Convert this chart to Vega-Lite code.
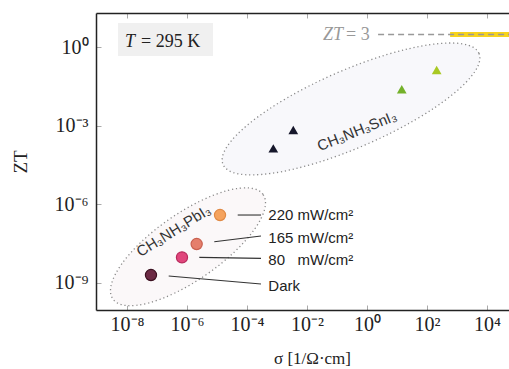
{
  "$schema": "https://vega.github.io/schema/vega-lite/v6.json",
  "width": 413,
  "height": 297,
  "autosize": {"type": "none"},
  "padding": {"left": 96, "top": 13, "right": 0, "bottom": 59},
  "background": "white",
  "config": {"view": {"stroke": null}},
  "resolve": {"axis": {"x": "independent"}},
  "layer": [
    {
      "data": {"values": [{"sigma": 0.293, "zt": 0.00432}]},
      "mark": {"type": "point", "shape": "M1,0C1,0.153,0.552,0.277,0,0.277C-0.552,0.277,-1,0.153,-1,0C-1,-0.153,-0.552,-0.277,0,-0.277C0.552,-0.277,1,-0.153,1,0Z", "size": 77841, "angle": -23.5, "filled": true, "fill": "#f8f8fb", "fillOpacity": 1, "opacity": 1, "stroke": "#8a8a8a", "strokeWidth": 1.3, "strokeDash": [1.2, 2.8]},
      "encoding": {
        "x": {"field": "sigma", "type": "quantitative", "scale": {"type": "log", "domain": [9.26e-10, 54100], "nice": false},
          "axis": {"values": [1e-8, 1e-6, 1e-4, 1e-2, 1, 100, 10000], "labelExpr": "'10' + (datum.value < 1 ? '⁻' : '') + ['⁰','¹','²','³','⁴','⁵','⁶','⁷','⁸','⁹'][abs(round(log(datum.value)/LN10))]", "title": "σ  [1/Ω·cm]", "domainColor": "#222", "domainWidth": 1.5, "tickColor": "#aaa", "tickSize": -5, "labelPadding": 9, "labelFont": "Liberation Serif", "labelFontSize": 20, "labelColor": "#222", "labelFlush": false, "labelOverlap": false, "titleFont": "Liberation Serif", "titleFontSize": 17, "titleFontWeight": "normal", "titleColor": "#222", "titleX": 216, "titleY": 48, "titleBaseline": "middle", "grid": false}},
        "y": {"field": "zt", "type": "quantitative", "scale": {"type": "log", "domain": [9.1e-11, 19.9], "nice": false},
          "axis": {"values": [1, 1e-3, 1e-6, 1e-9], "labelExpr": "'10' + (datum.value < 1 ? '⁻' : '') + ['⁰','¹','²','³','⁴','⁵','⁶','⁷','⁸','⁹'][abs(round(log(datum.value)/LN10))]", "title": "ZT", "domainColor": "#222", "domainWidth": 1.5, "tickColor": "#aaa", "tickSize": -5, "labelPadding": 13, "labelFont": "Liberation Serif", "labelFontSize": 20, "labelColor": "#222", "labelFlush": false, "labelOverlap": false, "titleFont": "Liberation Serif", "titleFontSize": 19, "titleFontWeight": "normal", "titleColor": "#222", "titleX": -76, "titleBaseline": "middle", "grid": false}}
      }
    },
    {
      "data": {"values": [{"sigma": 1.08e-6, "zt": 2.36e-8}]},
      "mark": {"type": "point", "shape": "M1,0C1,0.201,0.552,0.364,0,0.364C-0.552,0.364,-1,0.201,-1,0C-1,-0.201,-0.552,-0.364,0,-0.364C0.552,-0.364,1,-0.201,1,0Z", "size": 33489, "angle": -34.8, "filled": true, "fill": "#fbf8f9", "fillOpacity": 1, "opacity": 1, "stroke": "#8a8a8a", "strokeWidth": 1.3, "strokeDash": [1.2, 2.8]},
      "encoding": {
        "x": {"field": "sigma", "type": "quantitative", "scale": {"type": "log", "domain": [9.26e-10, 54100], "nice": false}, "axis": null},
        "y": {"field": "zt", "type": "quantitative", "scale": {"type": "log", "domain": [9.1e-11, 19.9], "nice": false}}
      }
    },
    {
      "data": {"values": [{"sigma": 5.0e-9, "sigma2": 7.36e-6, "zt": 8.2, "zt2": 0.45}]},
      "mark": {"type": "rect", "fill": "#f0f0f0"},
      "encoding": {
        "x": {"field": "sigma", "type": "quantitative", "scale": {"type": "log", "domain": [9.26e-10, 54100], "nice": false},
          "axis": {"orient": "top", "values": [1e-8, 1e-6, 1e-4, 1e-2, 1, 100, 10000], "labels": false, "title": null, "domainColor": "#222", "domainWidth": 1.5, "tickColor": "#aaa", "tickSize": -5, "grid": false}},
        "x2": {"field": "sigma2"},
        "y": {"field": "zt", "type": "quantitative", "scale": {"type": "log", "domain": [9.1e-11, 19.9], "nice": false}},
        "y2": {"field": "zt2"}
      }
    },
    {
      "data": {"values": [{"sigma": 589, "sigma2": 54100, "zt": 3}]},
      "mark": {"type": "rule", "color": "#f7d31a", "strokeWidth": 5},
      "encoding": {
        "x": {"field": "sigma", "type": "quantitative", "scale": {"type": "log", "domain": [9.26e-10, 54100], "nice": false}, "axis": null},
        "x2": {"field": "sigma2"},
        "y": {"field": "zt", "type": "quantitative", "scale": {"type": "log", "domain": [9.1e-11, 19.9], "nice": false}}
      }
    },
    {
      "data": {"values": [{"sigma": 2.34, "sigma2": 54100, "zt": 3}]},
      "mark": {"type": "rule", "color": "#999", "strokeWidth": 1.5, "strokeDash": [6, 4]},
      "encoding": {
        "x": {"field": "sigma", "type": "quantitative", "scale": {"type": "log", "domain": [9.26e-10, 54100], "nice": false}, "axis": null},
        "x2": {"field": "sigma2"},
        "y": {"field": "zt", "type": "quantitative", "scale": {"type": "log", "domain": [9.1e-11, 19.9], "nice": false}}
      }
    },
    {
      "data": {"values": [
        {"sigma": 4.9e-5, "sigma2": 2.93e-4, "zt": 3.85e-7, "zt2": 3.85e-7},
        {"sigma": 8.1e-6, "sigma2": 2.93e-4, "zt": 3.68e-8, "zt2": 6.08e-8},
        {"sigma": 2.57e-6, "sigma2": 2.93e-4, "zt": 9.3e-9, "zt2": 8.55e-9},
        {"sigma": 2.45e-7, "sigma2": 2.93e-4, "zt": 1.8e-9, "zt2": 8.9e-10}
      ]},
      "mark": {"type": "rule", "color": "#333", "strokeWidth": 1.1},
      "encoding": {
        "x": {"field": "sigma", "type": "quantitative", "scale": {"type": "log", "domain": [9.26e-10, 54100], "nice": false}, "axis": null},
        "x2": {"field": "sigma2"},
        "y": {"field": "zt", "type": "quantitative", "scale": {"type": "log", "domain": [9.1e-11, 19.9], "nice": false}},
        "y2": {"field": "zt2"}
      }
    },
    {
      "data": {"values": [
        {"sigma": 7.53e-4, "zt": 1.35e-4, "s": "SnI3 a"},
        {"sigma": 3.49e-3, "zt": 6.78e-4, "s": "SnI3 a"},
        {"sigma": 14.4, "zt": 0.0243, "s": "SnI3 b"},
        {"sigma": 210, "zt": 0.132, "s": "SnI3 c"}
      ]},
      "mark": {"type": "point", "shape": "triangle-up", "filled": true, "size": 95, "opacity": 1},
      "encoding": {
        "x": {"field": "sigma", "type": "quantitative", "scale": {"type": "log", "domain": [9.26e-10, 54100], "nice": false}, "axis": null},
        "y": {"field": "zt", "type": "quantitative", "scale": {"type": "log", "domain": [9.1e-11, 19.9], "nice": false}},
        "color": {"field": "s", "type": "nominal", "scale": {"domain": ["SnI3 a", "SnI3 b", "SnI3 c"], "range": ["#16172b", "#74b12a", "#a9c923"]}, "legend": null}
      }
    },
    {
      "data": {"values": [
        {"sigma": 1.26e-5, "zt": 3.85e-7, "s": "220"},
        {"sigma": 2.1e-6, "zt": 3.0e-8, "s": "165"},
        {"sigma": 6.8e-7, "zt": 9.3e-9, "s": "80"},
        {"sigma": 6.3e-8, "zt": 1.97e-9, "s": "Dark"}
      ]},
      "mark": {"type": "point", "shape": "circle", "filled": true, "size": 125, "opacity": 1, "strokeWidth": 1.2},
      "encoding": {
        "x": {"field": "sigma", "type": "quantitative", "scale": {"type": "log", "domain": [9.26e-10, 54100], "nice": false}, "axis": null},
        "y": {"field": "zt", "type": "quantitative", "scale": {"type": "log", "domain": [9.1e-11, 19.9], "nice": false}},
        "fill": {"field": "s", "type": "nominal", "scale": {"domain": ["220", "165", "80", "Dark"], "range": ["#f5a35e", "#e57f6c", "#e0467c", "#6c2a44"]}, "legend": null},
        "stroke": {"field": "s", "type": "nominal", "scale": {"domain": ["220", "165", "80", "Dark"], "range": ["#e08a45", "#c9604f", "#b82a5c", "#3c1020"]}, "legend": null}
      }
    },
    {
      "data": {"values": [
        {"sigma": 5.13e-4, "zt": 3.85e-7, "label": "220 mW/cm²"},
        {"sigma": 5.13e-4, "zt": 5.1e-8, "label": "165 mW/cm²"},
        {"sigma": 5.13e-4, "zt": 7.4e-9, "label": "80\u00a0\u00a0\u00a0mW/cm²"},
        {"sigma": 5.13e-4, "zt": 7.7e-10, "label": "Dark"}
      ]},
      "mark": {"type": "text", "align": "left", "baseline": "middle", "font": "Liberation Sans", "fontSize": 15, "color": "#222"},
      "encoding": {
        "x": {"field": "sigma", "type": "quantitative", "scale": {"type": "log", "domain": [9.26e-10, 54100], "nice": false}, "axis": null},
        "y": {"field": "zt", "type": "quantitative", "scale": {"type": "log", "domain": [9.1e-11, 19.9], "nice": false}},
        "text": {"field": "label"}
      }
    },
    {
      "data": {"values": [{"sigma": 0.464, "zt": 6.25e-4, "label": "CH₃NH₃SnI₃"}]},
      "mark": {"type": "text", "align": "center", "baseline": "middle", "font": "Liberation Sans", "fontSize": 15, "color": "#333", "angle": -22},
      "encoding": {
        "x": {"field": "sigma", "type": "quantitative", "scale": {"type": "log", "domain": [9.26e-10, 54100], "nice": false}, "axis": null},
        "y": {"field": "zt", "type": "quantitative", "scale": {"type": "log", "domain": [9.1e-11, 19.9], "nice": false}},
        "text": {"field": "label"}
      }
    },
    {
      "data": {"values": [{"sigma": 3.55e-7, "zt": 9.6e-8, "label": "CH₃NH₃PbI₃"}]},
      "mark": {"type": "text", "align": "center", "baseline": "middle", "font": "Liberation Sans", "fontSize": 15, "color": "#333", "angle": -32},
      "encoding": {
        "x": {"field": "sigma", "type": "quantitative", "scale": {"type": "log", "domain": [9.26e-10, 54100], "nice": false}, "axis": null},
        "y": {"field": "zt", "type": "quantitative", "scale": {"type": "log", "domain": [9.1e-11, 19.9], "nice": false}},
        "text": {"field": "label"}
      }
    },
    {
      "data": {"values": [{"sigma": 0.158, "zt": 3, "label": "ZT"}]},
      "mark": {"type": "text", "align": "right", "baseline": "middle", "font": "Liberation Serif", "fontSize": 18, "fontStyle": "italic", "color": "#999999"},
      "encoding": {
        "x": {"field": "sigma", "type": "quantitative", "scale": {"type": "log", "domain": [9.26e-10, 54100], "nice": false}, "axis": null},
        "y": {"field": "zt", "type": "quantitative", "scale": {"type": "log", "domain": [9.1e-11, 19.9], "nice": false}},
        "text": {"field": "label"}
      }
    },
    {
      "data": {"values": [{"sigma": 0.2, "zt": 3, "label": "= 3"}]},
      "mark": {"type": "text", "align": "left", "baseline": "middle", "font": "Liberation Serif", "fontSize": 18, "color": "#999999"},
      "encoding": {
        "x": {"field": "sigma", "type": "quantitative", "scale": {"type": "log", "domain": [9.26e-10, 54100], "nice": false}, "axis": null},
        "y": {"field": "zt", "type": "quantitative", "scale": {"type": "log", "domain": [9.1e-11, 19.9], "nice": false}},
        "text": {"field": "label"}
      }
    },
    {
      "data": {"values": [{"sigma": 8.6e-9, "zt": 1.59, "label": "T"}]},
      "mark": {"type": "text", "align": "left", "baseline": "middle", "font": "Liberation Serif", "fontSize": 18, "fontStyle": "italic", "color": "#222222"},
      "encoding": {
        "x": {"field": "sigma", "type": "quantitative", "scale": {"type": "log", "domain": [9.26e-10, 54100], "nice": false}, "axis": null},
        "y": {"field": "zt", "type": "quantitative", "scale": {"type": "log", "domain": [9.1e-11, 19.9], "nice": false}},
        "text": {"field": "label"}
      }
    },
    {
      "data": {"values": [{"sigma": 2.93e-8, "zt": 1.59, "label": "= 295 K"}]},
      "mark": {"type": "text", "align": "left", "baseline": "middle", "font": "Liberation Serif", "fontSize": 18, "color": "#222222"},
      "encoding": {
        "x": {"field": "sigma", "type": "quantitative", "scale": {"type": "log", "domain": [9.26e-10, 54100], "nice": false}, "axis": null},
        "y": {"field": "zt", "type": "quantitative", "scale": {"type": "log", "domain": [9.1e-11, 19.9], "nice": false}},
        "text": {"field": "label"}
      }
    }
  ]
}
